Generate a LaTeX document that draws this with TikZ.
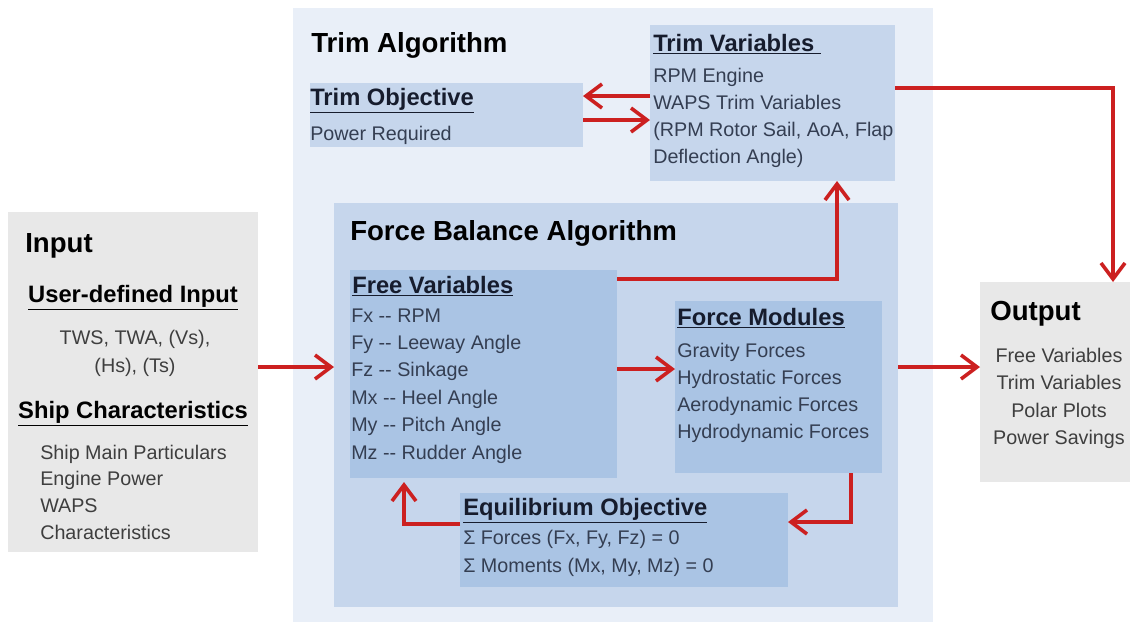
\documentclass[tikz,border=0pt]{standalone}
\usepackage{fontspec}
\setmainfont{Liberation Sans}
\usetikzlibrary{arrows.meta}

\definecolor{palebg}{RGB}{233,239,248}
\definecolor{midblue}{RGB}{198,214,236}
\definecolor{deepblue}{RGB}{170,196,228}
\definecolor{greybox}{RGB}{232,232,232}
\definecolor{arrowred}{RGB}{204,32,32}
\definecolor{titletxt}{RGB}{22,28,45}
\definecolor{bodytxt}{RGB}{52,62,82}
\definecolor{greytxt}{RGB}{62,62,62}

\tikzset{
  panel/.style={anchor=north west, inner sep=0pt, outer sep=0pt, draw=none},
  headtxt/.style={anchor=base west, inner sep=0pt, font=\fontsize{20.7}{24}\selectfont\bfseries, text=black},
  subtxt/.style={anchor=base west, inner sep=0pt, font=\fontsize{17.8}{21}\selectfont\bfseries, text=titletxt},
  bodytext/.style={anchor=base west, inner sep=0pt, font=\fontsize{14.8}{18}\selectfont, text=bodytxt},
  flow/.style={draw=arrowred, line width=2.7pt, -{Straight Barb[length=12pt,width=18pt]}},
}

\begin{document}
\begin{tikzpicture}[x=0.75pt,y=0.75pt,yscale=-1,xscale=1]
\useasboundingbox (0,0) rectangle (1132,622);

%Shape: Rectangle [trim algorithm]
\node (trimalg) [panel, fill=palebg, minimum width=480pt, minimum height=460.5pt] at (293,8) {};
%Shape: Rectangle [input]
\node (input) [panel, fill=greybox, minimum width=187.5pt, minimum height=255pt] at (8,212) {};
%Shape: Rectangle [output]
\node (output) [panel, fill=greybox, minimum width=112.5pt, minimum height=150pt] at (980,282) {};
%Shape: Rectangle [trim objective]
\node (trimobj) [panel, fill=midblue, minimum width=204.75pt, minimum height=48pt] at (310,83) {};
%Shape: Rectangle [trim variables]
\node (trimvar) [panel, fill=midblue, minimum width=183.75pt, minimum height=117pt] at (650,25) {};
%Shape: Rectangle [force balance]
\node (forcebal) [panel, fill=midblue, minimum width=423pt, minimum height=303pt] at (334,203) {};
%Shape: Rectangle [free variables]
\node (freevar) [panel, fill=deepblue, minimum width=200.25pt, minimum height=156pt] at (350,270) {};
%Shape: Rectangle [force modules]
\node (forcemod) [panel, fill=deepblue, minimum width=155.25pt, minimum height=129pt] at (675,301) {};
%Shape: Rectangle [equilibrium]
\node (equil) [panel, fill=deepblue, minimum width=246pt, minimum height=70.5pt] at (460,493) {};

% Text Node
\node (trimalgtxt) [headtxt] at (311,52) {Trim Algorithm};
% Text Node
\node (forcebaltxt) [headtxt] at (350,240) {Force Balance Algorithm};
% Text Node
\node (inputtxt) [headtxt] at (25,252) {Input};
% Text Node
\node (outputtxt) [headtxt] at (990,320) {Output};

% Text Node
\node (trimobjhd) [subtxt] at (310,105) {\underline{Trim Objective}};
\node (trimobjbd) [bodytext] at (310,140) {Power Required};
% Text Node
\node (trimvarhd) [subtxt] at (653,51) {\underline{Trim Variables\ }};
\foreach \txt [count=\i from 0] in {RPM Engine, WAPS Trim Variables, {(RPM Rotor Sail, AoA, Flap}, Deflection Angle)}
  \node (trimvar-\i) [bodytext] at (653,82+27.3*\i) {\txt};
% Text Node
\node (freevarhd) [subtxt] at (352,293) {\underline{Free Variables}};
\foreach \txt [count=\i from 0] in {Fx -{}- RPM, Fy -{}- Leeway Angle, Fz -{}- Sinkage, Mx -{}- Heel Angle, My -{}- Pitch Angle, Mz -{}- Rudder Angle}
  \node (freevar-\i) [bodytext] at (351,322+27.4*\i) {\txt};
% Text Node
\node (forcemodhd) [subtxt] at (677,325) {\underline{Force Modules}};
\foreach \txt [count=\i from 0] in {Gravity Forces, Hydrostatic Forces, Aerodynamic Forces, Hydrodynamic Forces}
  \node (forcemod-\i) [bodytext] at (677,357+27.3*\i) {\txt};
% Text Node
\node (equilhd) [subtxt] at (463,515) {\underline{Equilibrium Objective}};
\node (equil-0) [bodytext] at (463,544) {Σ Forces (Fx, Fy, Fz) = 0};
\node (equil-1) [bodytext] at (463,572) {Σ Moments (Mx, My, Mz) = 0};

% Text Node
\node (userhd) [subtxt, anchor=base, text=black] at (133,302) {\underline{User-defined Input}};
\node (user-0) [bodytext, anchor=base, text=greytxt] at (135,344) {TWS, TWA, (Vs),};
\node (user-1) [bodytext, anchor=base, text=greytxt] at (135,372) {(Hs), (Ts)};
\node (shiphd) [subtxt, anchor=base, text=black] at (133,418) {\underline{Ship Characteristics}};
\foreach \txt [count=\i from 0] in {Ship Main Particulars, Engine Power, WAPS, Characteristics}
  \node (ship-\i) [bodytext, text=greytxt] at (40,459+26.8*\i) {\txt};
% Text Node
\foreach \txt [count=\i from 0] in {Free Variables, Trim Variables, Polar Plots, Power Savings}
  \node (out-\i) [bodytext, anchor=base, text=greytxt] at (1059,362+27.6*\i) {\txt};

%Straight Lines
\draw [flow] (input.east |- 0,367) -- (forcebal.west |- 0,367);
\draw [flow] (trimvar.west |- 0,96) -- (trimobj.east |- 0,96);
\draw [flow] (trimobj.east |- 0,120) -- (trimvar.west |- 0,120);
\draw [flow] (trimvar.east |- 0,88) -| (output.north -| 1113,0);
\draw [flow] (freevar.east |- 0,279) -| (trimvar.south -| 837,0);
\draw [flow] (freevar.east |- 0,369) -- (forcemod.west |- 0,369);
\draw [flow] (forcebal.east |- 0,367) -- (output.west |- 0,367);
\draw [flow] (forcemod.south -| 851,0) |- (equil.east |- 0,522);
\draw [flow, shorten >=3] (equil.west |- 0,524) -| (freevar.south -| 404,0);

\end{tikzpicture}
\end{document}
